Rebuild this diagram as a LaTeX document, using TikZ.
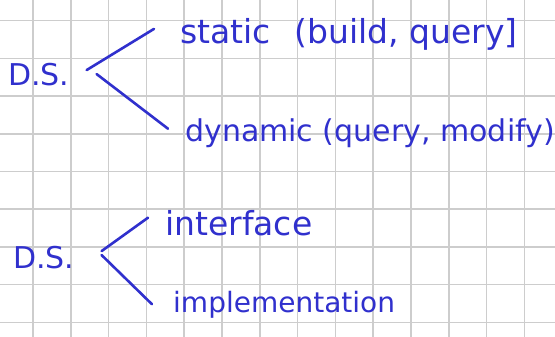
\documentclass[tikz,border=0pt]{standalone}
\usepackage{fontspec}
\setmainfont{DejaVu Sans}
\usetikzlibrary{positioning,calc}
\definecolor{ink}{RGB}{48,48,205}
\definecolor{paper}{RGB}{205,205,205}
\tikzset{
  word/.style={ink, inner sep=0pt, anchor=base west, font=\fontsize{30}{30}\selectfont},
  stroke/.style={ink, line width=2.6pt, line cap=round},
  gridline/.style={paper, line width=1.6pt}
}

\begin{document}
\begin{tikzpicture}[x=1pt,y=-1pt]
  \useasboundingbox (0,0) rectangle (555,337);
  % squared paper
  \foreach \i in {0,...,13}
    \draw[gridline] (33+37.8*\i,0) -- (33+37.8*\i,337);
  \foreach \j in {0,...,8}
    \draw[gridline] (0,20.7+37.7*\j) -- (555,20.7+37.7*\j);
  % first split
  \node[word] (ds1) at (8,85) {D.S.};
  \node[word, font=\fontsize{33}{33}\selectfont] (static) at (180,44) {static\hspace{0.4em} (build, query]};
  \node[word] (dynamic) at (185,142) {dynamic (query, modify)};
  \draw[stroke] ([shift={(17,-4)}]ds1.east) -- ([shift={(-26,-6)}]static.west);
  \draw[stroke] ([shift={(27,0)}]ds1.east) -- ([shift={(-17,-5)}]dynamic.west);
  % second split
  \node[word] (ds2) at (13,268) {D.S.};
  \node[word, font=\fontsize{33}{33}\selectfont] (iface) at (165,235) {interface};
  \node[word, font=\fontsize{28}{28}\selectfont] (impl) at (173,312) {implementation};
  \draw[stroke] ([shift={(27,-6)}]ds2.east) -- ([shift={(-17,-5)}]iface.west);
  \draw[stroke] ([shift={(27,-2)}]ds2.east) -- ([shift={(-21,0)}]impl.west);
\end{tikzpicture}
\end{document}
